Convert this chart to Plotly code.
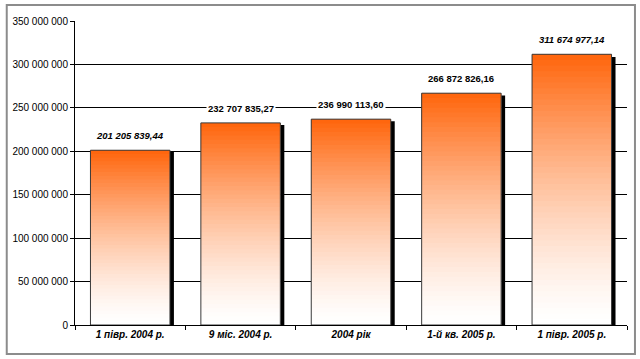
import plotly.graph_objects as go

categories = ["1 півр. 2004 р.", "9 міс. 2004 р.", "2004 рік", "1-й кв. 2005 р.", "1 півр. 2005 р."]
values = [201205839.44, 232707835.27, 236990113.60, 266872826.16, 311674977.14]
label_italic = [True, False, False, False, True]
y_ticks = [0, 50000000, 100000000, 150000000, 200000000, 250000000, 300000000, 350000000]
grid_ticks = [50000000, 100000000, 150000000, 200000000, 250000000, 300000000]

FONT = "Liberation Sans, Arial, sans-serif"
TOP = (255, 100, 10)
BOTTOM = (255, 255, 255)
N = 48
BAR_W = 0.72
BAR_OFF = -0.36


def fmt(v):
    s = f"{v:,.2f}"
    return s.replace(",", " ").replace(".", ",")


def mix(t):
    # t=0 bottom (white) -> t=1 top (orange)
    tt = t ** 1.4
    c = [round(BOTTOM[i] + (TOP[i] - BOTTOM[i]) * tt) for i in range(3)]
    return f"rgb({c[0]},{c[1]},{c[2]})"


fig = go.Figure()

# shadow
fig.add_trace(go.Bar(
    x=categories, y=[v * 0.99 for v in values], width=0.036, offset=-BAR_OFF,
    marker=dict(color="black", line=dict(width=0)), hoverinfo="skip", showlegend=False,
))

# gradient fill slices (each slice overlaps the next to avoid seams)
for k in range(N):
    fig.add_trace(go.Bar(
        x=categories,
        y=[v / N * (2.0 if k < N - 1 else 1.0) for v in values],
        base=[v * k / N for v in values],
        width=BAR_W, offset=BAR_OFF,
        marker=dict(color=mix((k + 0.5) / N), line=dict(width=0)),
        hoverinfo="skip", showlegend=False,
    ))

# outline
fig.add_trace(go.Bar(
    x=categories, y=values, width=BAR_W, offset=BAR_OFF,
    marker=dict(color="rgba(0,0,0,0)", line=dict(color="#3a3a3a", width=1)),
    showlegend=False, hoverinfo="skip",
))

# value labels (annotations with white background, like the original)
annotations = []
for c, v, it in zip(categories, values, label_italic):
    s = fmt(v)
    annotations.append(dict(
        x=c, y=v, xref="x", yref="y", text=(f"<b><i>{s}</i></b>" if it else f"<b>{s}</b>"),
        showarrow=False, yanchor="bottom", yshift=7, bgcolor="white",
        font=dict(family=FONT, size=9.5, color="black"), borderpad=1,
    ))

# dummy trace to activate yaxis2 (labels/ticks axis)
fig.add_trace(go.Scatter(x=[categories[0]], y=[0], yaxis="y2", mode="markers",
                         marker=dict(opacity=0), showlegend=False, hoverinfo="skip"))

ticktext = [f"<b><i>{c}</i></b>" for c in categories]

fig.update_layout(
    width=640, height=359,
    margin=dict(l=73, r=13, t=21, b=34),
    paper_bgcolor="white", plot_bgcolor="white",
    barmode="overlay",
    separators=", ",
    font=dict(family=FONT, size=10, color="black"),
    xaxis=dict(
        type="category", tickmode="array", tickvals=categories, ticktext=ticktext,
        tickson="boundaries", ticks="outside", ticklen=4, tickcolor="black",
        showline=True, linecolor="black", linewidth=1, showgrid=False,
        tickfont=dict(family=FONT, size=10, color="black"), range=[-0.5, 4.5],
    ),
    yaxis=dict(
        range=[0, 350000000], tickmode="array", tickvals=grid_ticks,
        showticklabels=False, showgrid=True, gridcolor="black", gridwidth=1,
        zeroline=False, showline=False, ticks="",
    ),
    yaxis2=dict(
        overlaying="y", side="left", range=[0, 350000000], tickmode="array",
        tickvals=y_ticks, tickformat=",d",
        ticks="outside", ticklen=4, tickcolor="black", showgrid=False,
        showline=True, linecolor="black", linewidth=1, zeroline=False,
        tickfont=dict(family=FONT, size=10, color="black"),
    ),
    annotations=annotations,
    shapes=[dict(
        type="rect", xref="paper", yref="paper",
        x0=(4.5 - 73) / 554, x1=(635 - 73) / 554,
        y0=(325 - 354) / 304, y1=(325 - 5) / 304,
        line=dict(color="#8c8c8c", width=2), fillcolor="rgba(0,0,0,0)", layer="below",
    )],
)

fig.write_html("out.html", config={"displayModeBar": False},
               post_script="document.body.style.margin='0';")
